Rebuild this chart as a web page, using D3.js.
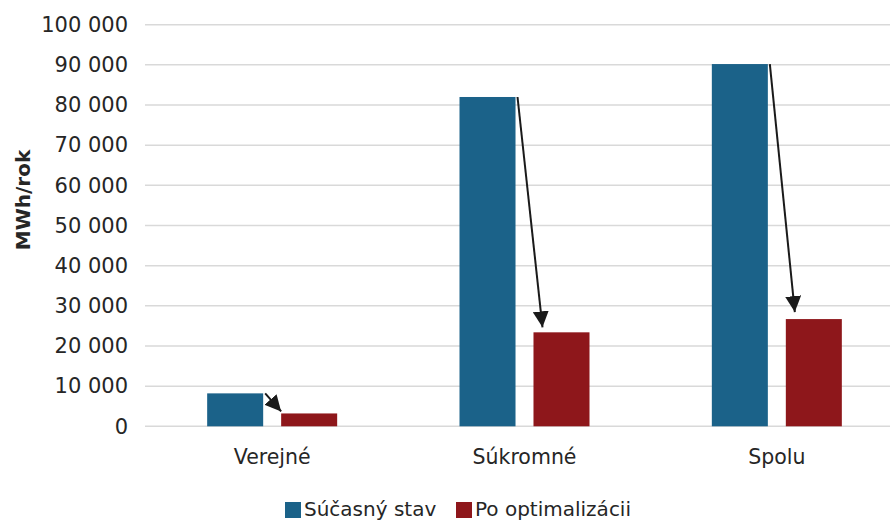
<!DOCTYPE html>
<html><head><meta charset="utf-8">
<script src="https://cdn.jsdelivr.net/npm/d3@7"></script>
<style>body{margin:0;background:#fff}svg{display:block}</style>
</head><body>
<svg id="c" width="890" height="520"></svg>
<script>
const categories = ["Verejné", "Súkromné", "Spolu"];
const seriesNames = ["Súčasný stav", "Po optimalizácii"];
const current = [8200, 82000, 90200];
const optimized = [3200, 23400, 26700];
const yTicks = [0, 10000, 20000, 30000, 40000, 50000, 60000, 70000, 80000, 90000, 100000];
const colors = ["#1B6289", "#8E171B"];

const svg = d3.select("#c");
const font = "'DejaVu Sans', sans-serif";
const x = d3.scaleBand().domain(categories).range([146, 903]).padding(0);
const x1 = d3.scaleBand().domain(seriesNames).range([0, 130]).paddingInner(0.243).paddingOuter(0);
const y = d3.scaleLinear().domain([0, 100000]).range([426.3, 24.7]);

// gridlines
svg.append("g").selectAll("line").data(yTicks).join("line")
  .attr("x1", 145).attr("x2", 890)
  .attr("y1", d => y(d)).attr("y2", d => y(d))
  .attr("stroke", "#d9d9d9").attr("stroke-width", 1.5);

// y axis labels
const yAxis = d3.axisLeft(y).tickValues(yTicks).tickSize(0).tickPadding(0)
  .tickFormat(d => d3.format(",")(d).replace(/,/g, " "));
const ga = svg.append("g").attr("transform", "translate(128,0)").call(yAxis);
ga.select(".domain").remove();
ga.selectAll("text").attr("font-family", font).attr("font-size", 21).attr("fill", "#262626");

// y title
svg.append("text").attr("transform", "translate(30,200) rotate(-90)")
  .attr("text-anchor", "middle").attr("font-family", font).attr("font-weight", "bold")
  .attr("font-size", 20).attr("fill", "#262626").text("MWh/rok");

// bars
const rows = categories.map((c, i) => ({c, vals: [current[i], optimized[i]]}));
const g = svg.append("g");
rows.forEach(r => {
  g.selectAll(null).data(r.vals).join("rect")
    .attr("x", (d, j) => x(r.c) + x.bandwidth() / 2 - 65 + x1(seriesNames[j]))
    .attr("y", d => y(d))
    .attr("width", x1.bandwidth())
    .attr("height", d => y(0) - y(d))
    .attr("fill", (d, j) => colors[j]);
});

// x labels
const xAxis = d3.axisBottom(x).tickSize(0).tickPadding(0);
const gx = svg.append("g").attr("transform", "translate(0,449)").call(xAxis);
gx.select(".domain").remove();
gx.selectAll("text").attr("font-family", font).attr("font-size", 20.5).attr("fill", "#262626");

// arrows
svg.append("defs").append("marker").attr("id", "ah")
  .attr("viewBox", "0 0 10 10").attr("refX", 10).attr("refY", 5)
  .attr("markerWidth", 8).attr("markerHeight", 8).attr("markerUnits", "strokeWidth")
  .attr("orient", "auto")
  .append("path").attr("d", "M0,0 L10,5 L0,10 Z").attr("fill", "#1a1a1a");
const tipDx = [0, 9, 9], tipDy = [2, 5, 7];
rows.forEach((r, i) => {
  const cx = x(r.c) + x.bandwidth() / 2 - 65;
  svg.append("line")
    .attr("x1", cx + x1(seriesNames[0]) + x1.bandwidth() + 2)
    .attr("y1", y(r.vals[0]))
    .attr("x2", cx + x1(seriesNames[1]) + tipDx[i])
    .attr("y2", y(r.vals[1]) - tipDy[i])
    .attr("stroke", "#1a1a1a").attr("stroke-width", 2)
    .attr("marker-end", "url(#ah)");
});

// legend
const lg = svg.append("g").attr("transform", "translate(285,501)");
const items = [{n: seriesNames[0], c: colors[0], dx: 0}, {n: seriesNames[1], c: colors[1], dx: 171}];
items.forEach(it => {
  lg.append("rect").attr("x", it.dx).attr("y", 1).attr("width", 16).attr("height", 16).attr("fill", it.c);
  lg.append("text").attr("x", it.dx + 19).attr("y", 15).attr("font-family", font)
    .attr("font-size", 20).attr("fill", "#262626").text(it.n);
});
</script>
</body></html>
